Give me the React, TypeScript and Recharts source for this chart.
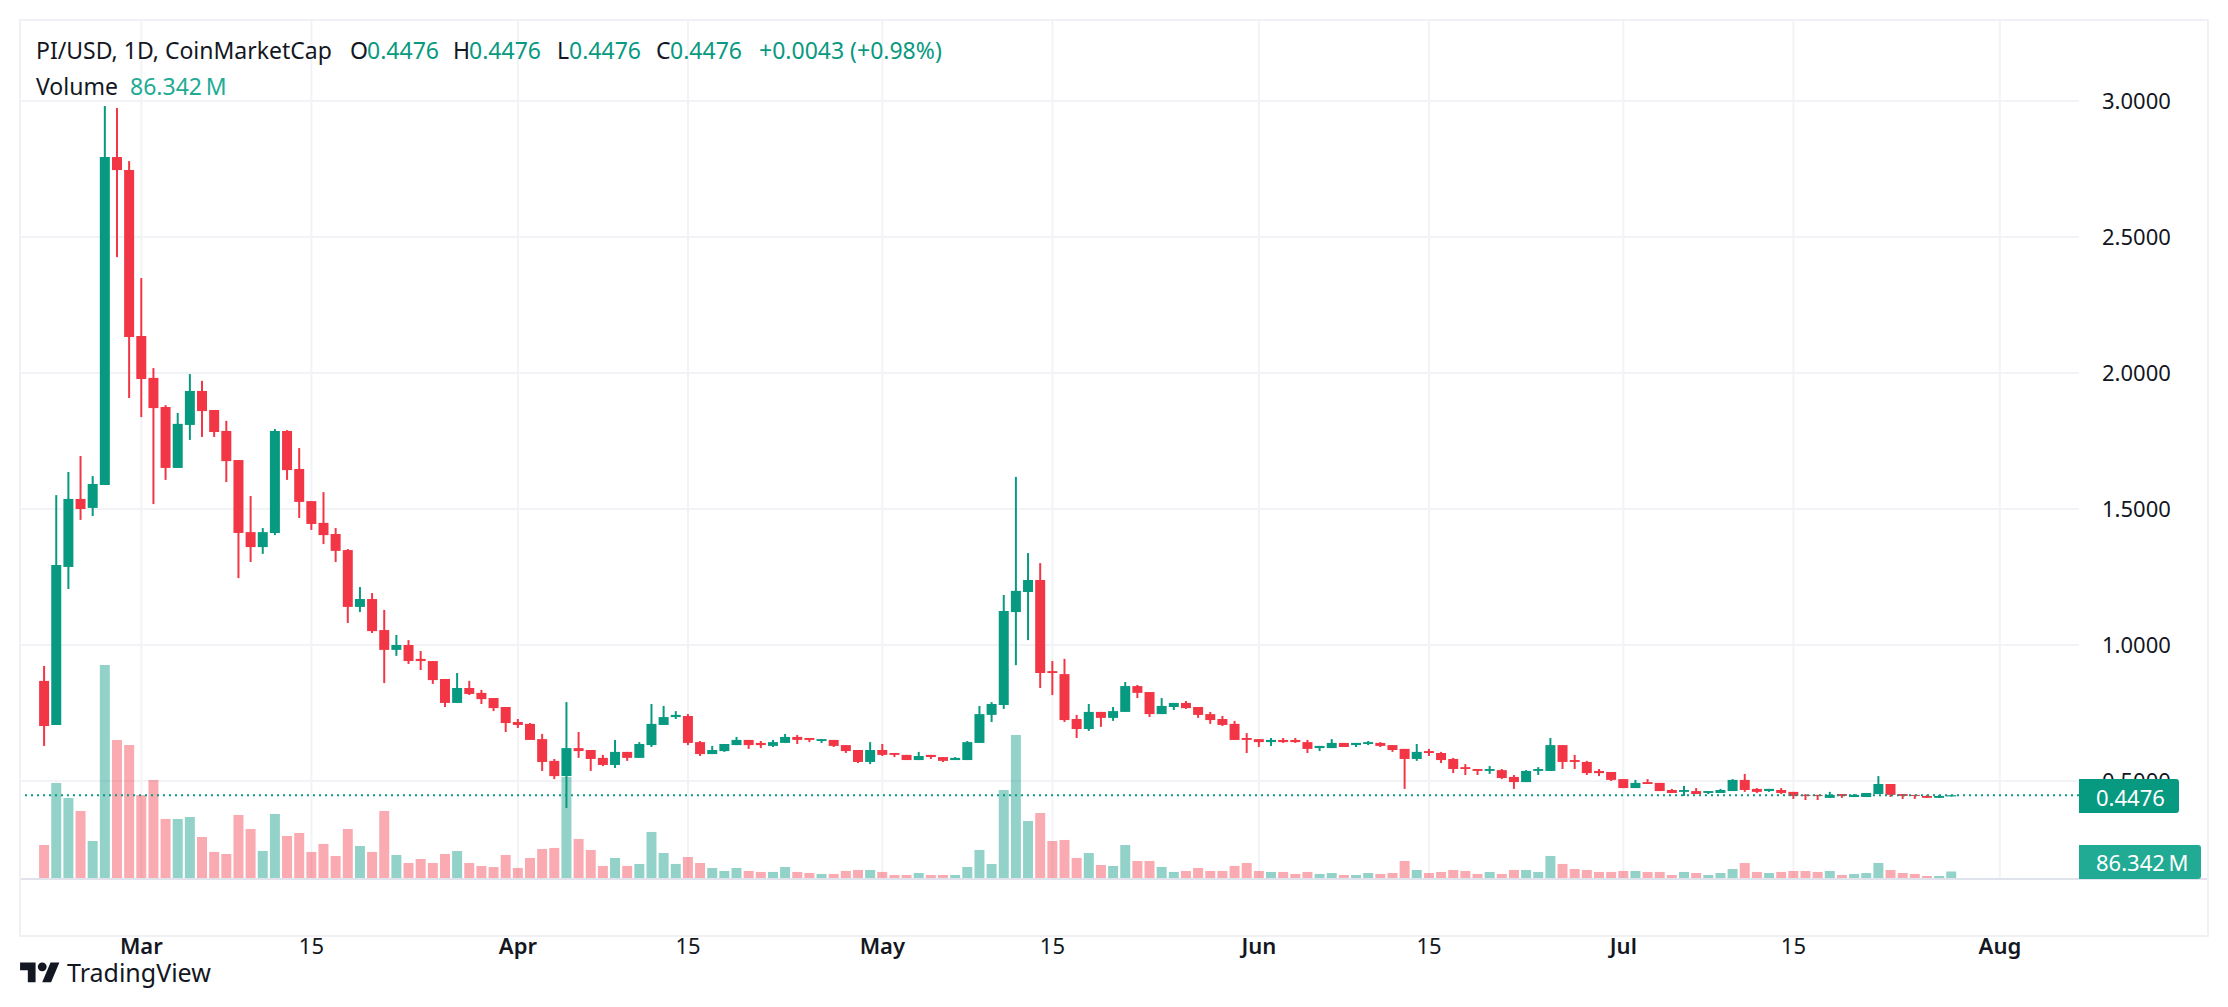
import React from "react";
import { ComposedChart, Bar, Cell, XAxis, YAxis, CartesianGrid, ReferenceLine } from "recharts";

const FONT = "'Noto Sans', sans-serif";
const UP = "#089981";
const DOWN = "#f23645";
const INK = "#131722";

const opens = [
  .868,.706,1.287,1.537,1.504,1.588,2.794,2.746,2.136,1.982,
  1.875,1.651,1.809,1.934,1.864,1.787,1.680,1.415,1.360,1.412,
  1.787,1.647,1.529,1.449,1.408,1.349,1.140,1.169,1.055,.982,
  1.000,.949,.941,.875,.787,.842,.824,.805,.772,.717,
  .710,.654,.574,.518,.621,.614,.585,.559,.607,.585,
  .632,.706,.735,.739,.643,.599,.610,.632,.651,.640,
  .629,.640,.662,.658,.647,.651,.632,.614,.570,.614,
  .603,.596,.577,.596,.588,.577,.577,.640,.743,.779,
  1.121,1.195,1.239,.904,.893,.728,.691,.754,.732,.754,
  .849,.827,.746,.772,.787,.772,.746,.728,.710,.658,
  .654,.643,.651,.651,.643,.621,.621,.640,.632,.636,
  .640,.632,.618,.581,.610,.603,.581,.551,.544,.537,
  .540,.515,.496,.537,.537,.632,.577,.570,.537,.533,
  .507,.474,.496,.493,.467,.460,.463,.456,.456,.463,
  .504,.471,.463,.467,.460,.449,.449,.438,.452,.441,
  .441,.452,.489,.452,.449,.445,.438,.4433,
];
const closes = [
  .702,1.294,1.537,1.500,1.592,2.794,2.746,2.132,1.978,1.871,
  1.651,1.813,1.934,1.860,1.783,1.676,1.412,1.360,1.415,1.787,
  1.643,1.526,1.445,1.404,1.346,1.140,1.169,1.051,.982,1.000,
  .941,.941,.871,.787,.842,.820,.801,.768,.713,.706,
  .651,.570,.518,.621,.610,.581,.559,.607,.585,.636,
  .710,.735,.743,.640,.599,.614,.636,.651,.632,.632,
  .643,.662,.651,.651,.654,.629,.610,.570,.614,.596,
  .596,.577,.592,.588,.574,.585,.643,.746,.783,1.125,
  1.199,1.239,.897,.897,.724,.691,.754,.732,.757,.849,
  .824,.746,.776,.787,.768,.743,.724,.706,.651,.651,
  .643,.651,.643,.643,.618,.629,.640,.625,.640,.643,
  .629,.614,.581,.607,.603,.577,.544,.544,.537,.544,
  .511,.496,.537,.544,.632,.570,.570,.529,.529,.504,
  .474,.493,.489,.463,.456,.467,.452,.463,.467,.504,
  .467,.460,.471,.456,.445,.445,.445,.449,.445,.449,
  .456,.489,.449,.445,.445,.438,.445,.4476,
];
const highs = [
  .923,1.551,1.636,1.695,1.621,2.982,2.974,2.779,2.349,2.018,
  1.882,1.853,1.996,1.971,1.864,1.824,1.680,1.548,1.430,1.794,
  1.790,1.724,1.529,1.562,1.430,1.353,1.213,1.191,1.129,1.037,
  1.018,.978,.941,.875,.897,.868,.835,.805,.772,.728,
  .713,.673,.581,.790,.680,.614,.596,.651,.607,.643,
  .783,.776,.757,.746,.647,.629,.636,.662,.651,.647,
  .651,.673,.669,.658,.654,.651,.632,.614,.643,.636,
  .603,.596,.607,.596,.588,.588,.647,.776,.790,1.184,
  1.618,1.338,1.301,.941,.949,.743,.783,.754,.772,.864,
  .853,.827,.805,.787,.794,.772,.754,.739,.721,.676,
  .654,.658,.658,.658,.651,.629,.654,.640,.640,.647,
  .643,.632,.618,.636,.618,.607,.585,.562,.544,.555,
  .544,.522,.540,.551,.658,.632,.596,.574,.544,.533,
  .507,.504,.507,.493,.471,.482,.474,.463,.471,.507,
  .526,.474,.471,.474,.460,.452,.449,.460,.452,.452,
  .456,.518,.489,.452,.449,.449,.449,.4476,
];
const lows = [
  .629,.706,1.206,1.460,1.474,1.588,2.426,1.908,1.838,1.518,
  1.607,1.651,1.754,1.765,1.765,1.599,1.246,1.305,1.335,1.404,
  1.607,1.467,1.423,1.371,1.305,1.081,1.121,1.044,.860,.960,
  .930,.908,.857,.772,.787,.816,.783,.757,.680,.695,
  .651,.537,.507,.401,.585,.537,.555,.548,.574,.585,
  .625,.706,.728,.632,.592,.599,.607,.632,.618,.621,
  .625,.640,.636,.643,.640,.625,.603,.566,.562,.592,
  .588,.577,.577,.581,.570,.577,.577,.640,.717,.765,
  .926,1.018,.842,.816,.717,.658,.684,.699,.721,.754,
  .805,.735,.746,.761,.765,.732,.710,.702,.651,.603,
  .625,.629,.640,.640,.603,.610,.621,.625,.625,.632,
  .625,.607,.471,.574,.592,.566,.529,.522,.522,.526,
  .507,.471,.496,.522,.537,.544,.544,.522,.518,.500,
  .474,.474,.489,.463,.456,.445,.452,.452,.456,.463,
  .460,.456,.460,.452,.434,.430,.430,.438,.438,.441,
  .441,.452,.441,.434,.434,.438,.438,.4433,
];
const volumes = [
  391,1104,932,782,437,2461,1599,1541,966,1139,
  690,690,713,483,311,288,736,575,322,748,
  495,529,311,403,265,575,380,311,782,276,
  184,230,184,288,322,184,150,138,276,127,
  242,345,357,1173,460,334,150,242,150,173,
  541,299,173,253,184,127,92,127,92,81,
  81,138,81,69,58,58,92,104,104,81,
  46,46,69,46,46,46,138,334,173,1024,
  1656,667,759,437,449,242,299,161,150,391,
  207,207,138,81,92,127,92,92,150,184,
  92,81,81,58,81,58,69,46,46,69,
  58,69,207,104,69,81,104,92,58,81,
  58,104,104,81,265,173,115,104,81,81,
  92,92,81,81,46,81,69,46,69,115,
  184,81,69,81,92,92,81,92,46,58,
  69,184,104,69,58,35,35,86.342,
];

const FIRST_DAY = -8; // days relative to 1 March
const priceTicks = [0.5, 1, 1.5, 2, 2.5, 3];
const timeTicks = [0, 14, 31, 45, 61, 75, 92, 106, 122, 136, 153];
const timeLabels = ["Mar", "15", "Apr", "15", "May", "15", "Jun", "15", "Jul", "15", "Aug"];

const rows = opens.map((o, i) => ({
  day: FIRST_DAY + i,
  body: [Math.min(o, closes[i]), Math.max(o, closes[i])],
  wick: [lows[i], highs[i]],
  volume: volumes[i],
  up: closes[i] >= o,
}));

const DAY_DOMAIN: [number, number] = [-9.99, 159.51];
const PRICE_DOMAIN: [number, number] = [0.1397, 3.2978];
const VOLUME_DOMAIN: [number, number] = [0, 9878];

function TimeTick(props: any) {
  const { x, y, payload } = props;
  const idx = timeTicks.indexOf(payload.value);
  const label = timeLabels[idx] ?? "";
  return (
    <text x={x} y={y + 37} textAnchor="middle" fontFamily={FONT} fontSize={22}
      fontWeight={label === "15" ? 400 : 600} fill={INK}>{label}</text>
  );
}

function PriceTick(props: any) {
  const { x, y, payload } = props;
  return (
    <text x={x} y={y + 8} textAnchor="start" fontFamily={FONT} fontSize={22} fill={INK}>
      {Number(payload.value).toFixed(4)}
    </text>
  );
}

function Txt({ left, top, color = INK, children, size = 23 }: any) {
  return (
    <div style={{ position: "absolute", left, top: top - 14, lineHeight: "28px", fontSize: size, color, whiteSpace: "pre", fontFamily: FONT }}>
      {children}
    </div>
  );
}

export default function App() {
  return (
    <div style={{ position: "absolute", left: 0, top: 0, width: 2228, height: 1007, background: "#fff", overflow: "hidden" }}>
      <ComposedChart width={2228} height={1007} data={rows}
        margin={{ top: 20, left: 20, right: 21, bottom: 72 }} barGap={0} barCategoryGap={0}>
        <CartesianGrid xAxisId="main" yAxisId="price" stroke="#f2f3f6" strokeWidth={2} syncWithTicks />
        <XAxis xAxisId="main" dataKey="day" type="number" domain={DAY_DOMAIN} allowDataOverflow ticks={timeTicks}
          interval={0} height={56} axisLine={false} tickLine={false} tick={<TimeTick />} />
        <XAxis xAxisId="vol" dataKey="day" type="number" domain={DAY_DOMAIN} allowDataOverflow hide />
        <XAxis xAxisId="wick" dataKey="day" type="number" domain={DAY_DOMAIN} allowDataOverflow hide />
        <XAxis xAxisId="body" dataKey="day" type="number" domain={DAY_DOMAIN} allowDataOverflow hide />
        <YAxis yAxisId="price" orientation="right" domain={PRICE_DOMAIN} allowDataOverflow ticks={priceTicks}
          interval={0} width={128} axisLine={false} tickLine={false} tickMargin={17} tick={<PriceTick />} />
        <YAxis yAxisId="volume" orientation="left" domain={VOLUME_DOMAIN} allowDataOverflow hide />
        <Bar xAxisId="vol" yAxisId="volume" dataKey="volume" barSize={10} isAnimationActive={false}>
          {rows.map((r, i) => <Cell key={i} fill={r.up ? UP : DOWN} fillOpacity={r.up ? 0.44 : 0.42} />)}
        </Bar>
        <Bar xAxisId="wick" yAxisId="price" dataKey="wick" barSize={2} isAnimationActive={false}>
          {rows.map((r, i) => <Cell key={i} fill={r.up ? UP : DOWN} />)}
        </Bar>
        <Bar xAxisId="body" yAxisId="price" dataKey="body" barSize={10} isAnimationActive={false}>
          {rows.map((r, i) => <Cell key={i} fill={r.up ? UP : DOWN} />)}
        </Bar>
        <ReferenceLine xAxisId="main" yAxisId="price" y={0.4476} stroke={UP} strokeWidth={2} strokeDasharray="2 4" />
      </ComposedChart>

      <div style={{ position: "absolute", left: 19, top: 19, width: 2190, height: 918, boxSizing: "border-box", border: "2px solid #f0f0f5" }} />
      <div style={{ position: "absolute", left: 21, top: 878, width: 2186, height: 2, background: "#e0e3eb" }} />

      <Txt left={36} top={50}>PI/USD, 1D, CoinMarketCap</Txt>
      <Txt left={350} top={50}>O</Txt>
      <Txt left={367} top={50} color={UP}>0.4476</Txt>
      <Txt left={453} top={50}>H</Txt>
      <Txt left={469} top={50} color={UP}>0.4476</Txt>
      <Txt left={557} top={50}>L</Txt>
      <Txt left={569} top={50} color={UP}>0.4476</Txt>
      <Txt left={656} top={50}>C</Txt>
      <Txt left={670} top={50} color={UP}>0.4476</Txt>
      <Txt left={759} top={50} color={UP}>+0.0043 (+0.98%)</Txt>
      <Txt left={36} top={86}>Volume</Txt>
      <Txt left={130} top={86} color="#22ab94">86.342{"\u2009"}M</Txt>

      <div style={{ position: "absolute", left: 2079, top: 779, width: 100, height: 34, background: UP, borderRadius: "0 3px 3px 0" }} />
      <Txt left={2096} top={797} color="#fff" size={22}>0.4476</Txt>
      <div style={{ position: "absolute", left: 2079, top: 845, width: 122, height: 34, background: "#22ab94", borderRadius: "0 3px 3px 0" }} />
      <Txt left={2096} top={862} color="#fff" size={22}>86.342{"\u2009"}M</Txt>

      <svg style={{ position: "absolute", left: 20, top: 958 }} width={40} height={31} viewBox="0 0 36 28">
        <path d="M14 22H7V11H0V4h14v18zM28 22h-8l7.5-18h8L28 22z" fill={INK} />
        <circle cx={20} cy={8} r={4} fill={INK} />
      </svg>
      <Txt left={67} top={972} size={25}>TradingView</Txt>
    </div>
  );
}
